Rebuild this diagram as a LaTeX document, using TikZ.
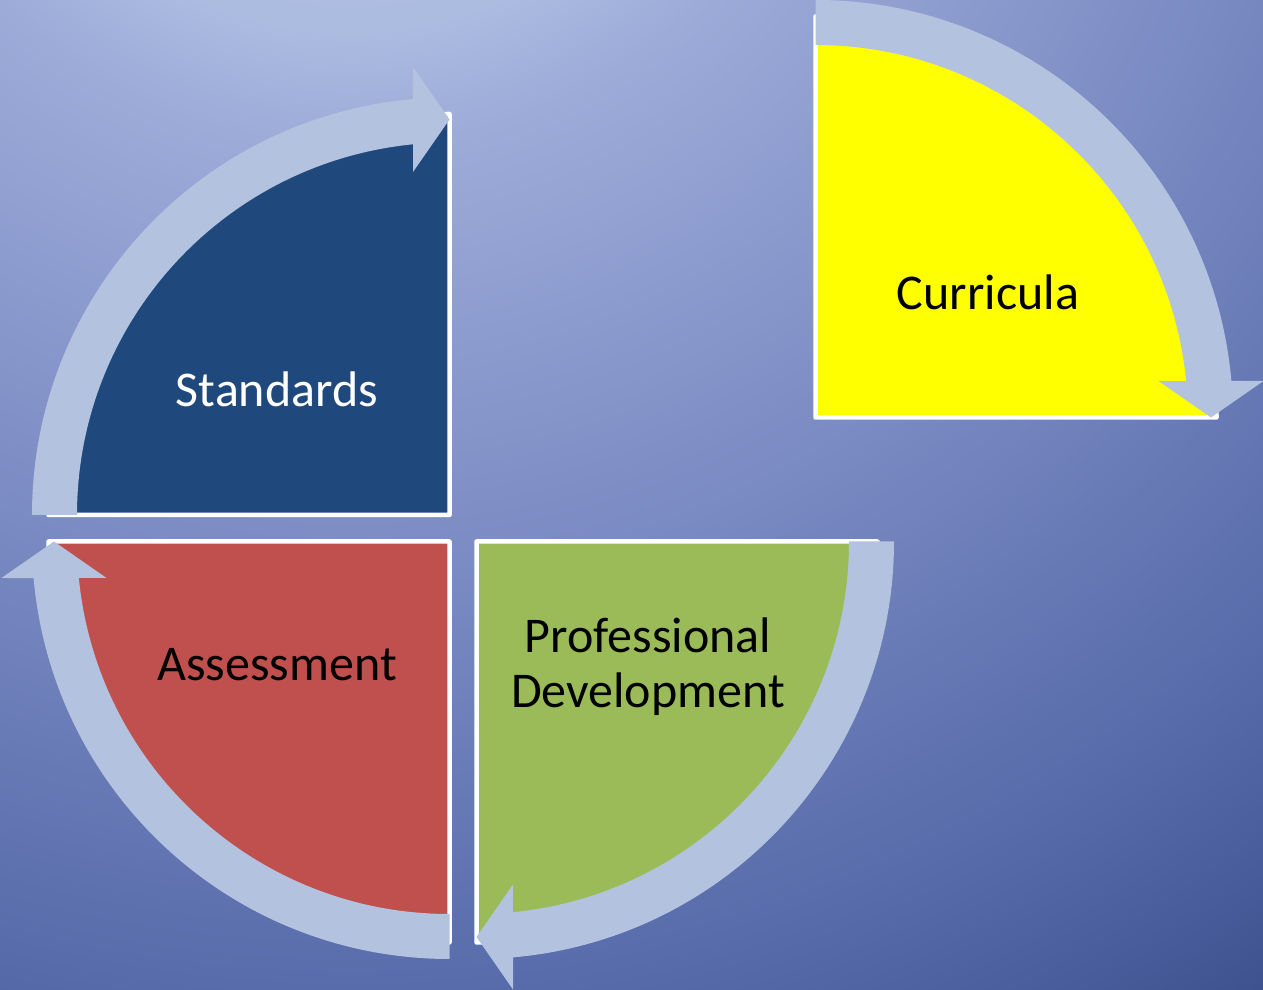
\documentclass[tikz,border=0pt]{standalone}
\usepackage{fontspec}
\setmainfont{Carlito}
\usetikzlibrary{calc}

\definecolor{bg0}{HTML}{B4C3E4}
\definecolor{bgA}{HTML}{ACBBE0}
\definecolor{bgB}{HTML}{9CABD8}
\definecolor{bgC}{HTML}{7B8BC3}
\definecolor{bgD}{HTML}{5468A8}
\definecolor{bgE}{HTML}{3F5290}
\definecolor{bgF}{HTML}{3C4E8B}
\definecolor{bandcol}{HTML}{B3C2DE}
\definecolor{stdblue}{HTML}{1F497D}
\definecolor{currYellow}{HTML}{FFFF00}
\definecolor{assessRed}{HTML}{C0504D}
\definecolor{pdGreen}{HTML}{9BBB59}

% radial backdrop; 25bp is the rim of the shaded circle
\pgfdeclareradialshading{backdrop}{\pgfpoint{0bp}{0bp}}{%
  color(0bp)=(bg0); color(5.6bp)=(bgA); color(7.3bp)=(bgB);
  color(13.5bp)=(bgC); color(20.4bp)=(bgD); color(23.8bp)=(bgE);
  color(25bp)=(bgF); color(50bp)=(bgF)}

\tikzset{
  quarter/.style={draw=white, line width=4.5pt, line join=round},
  band/.style={fill=bandcol, draw=none},
  label/.style={font=\fontsize{50}{55}\selectfont, align=center, inner sep=0pt}
}

% quarter disc: corner at origin, spanning 90..180 degrees before rotation
\newcommand\quarterdisc[3]{%
  \path[quarter, fill=#3, shift={#1}, rotate=#2]
    (0,0) -- (180:401) arc[start angle=180, end angle=90, radius=401] -- cycle;}
% curved arrow band running clockwise over the rim of a quarter disc
\newcommand\cycarrow[2]{%
  \path[band, shift={#1}, rotate=#2]
    (180:417.5) arc[start angle=180, end angle=95.02, radius=417.5]
    -- (-36.5,448) -- (0,395.5) -- (-36.5,343)
    -- (95.62:372.5) arc[start angle=95.62, end angle=180, radius=372.5]
    -- cycle;}

\begin{document}
\begin{tikzpicture}[x=1pt, y=1pt]
  \useasboundingbox (0,0) rectangle (1263,990);
  \begin{scope}
    \clip (0,0) rectangle (1263,990);
    \shade[shading=backdrop] (350,1340) circle (1700);
  \end{scope}

  % corners of the four quarter discs
  \coordinate (cStd) at (449.5,475);
  \coordinate (cCur) at (815.5,572.5);
  \coordinate (cPro) at (476.5,448.5);
  \coordinate (cAss) at (449.5,448.5);

  \quarterdisc{(cStd)}{0}{stdblue}
  \quarterdisc{(cCur)}{-90}{currYellow}
  \quarterdisc{(cPro)}{-180}{pdGreen}
  \quarterdisc{(cAss)}{90}{assessRed}

  \cycarrow{(cStd)}{0}
  \cycarrow{(cCur)}{-90}
  \cycarrow{(cPro)}{-180}
  \cycarrow{(cAss)}{90}

  \node[label, text=white] (standards) at (277,601) {Standards};
  \node[label] (curricula) at (988,698) {Curricula};
  \node[label] (assessment) at (277,325) {Assessment};
  \node[label] (profdev) at (648,323) {Professional\\Development};
\end{tikzpicture}
\end{document}
